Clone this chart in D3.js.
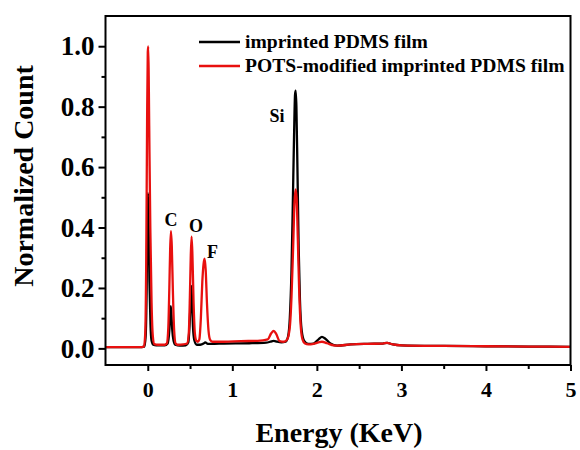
<!DOCTYPE html>
<html><head><meta charset="utf-8">
<script src="https://cdn.jsdelivr.net/npm/d3@7"></script>
<style>body{margin:0;background:#fff}svg{display:block}text{font-family:"Liberation Serif","Times New Roman",serif;font-weight:bold}</style>
</head><body><svg id="c" width="580" height="450"></svg>
<script>
// Energy (keV) and normalized counts
const energyBlack = [-0.5,-0.1,-0.04,-0.025,-0.013,-0.004,0.002,0.01,0.02,0.032,0.045,0.065,0.1,0.2,0.235,0.255,0.265,0.272,0.28,0.29,0.305,0.325,0.38,0.45,0.48,0.495,0.507,0.515,0.523,0.535,0.55,0.58,0.62,0.66,0.68,0.71,0.75,0.9,1.2,1.4,1.45,1.49,1.53,1.58,1.63,1.66,1.68,1.7,1.715,1.73,1.742,1.75,1.758,1.77,1.785,1.8,1.82,1.85,1.9,1.96,2.02,2.06,2.1,2.16,2.24,2.4,2.6,2.78,2.83,2.9,3.0,3.5,4.0,4.5,5.0];
const countBlack  = [0.004,0.004,0.006,0.04,0.2,0.45,0.514,0.42,0.22,0.08,0.025,0.012,0.01,0.01,0.016,0.06,0.11,0.14,0.11,0.06,0.025,0.012,0.009,0.01,0.02,0.08,0.16,0.207,0.16,0.07,0.028,0.012,0.012,0.016,0.02,0.015,0.015,0.016,0.017,0.019,0.022,0.025,0.022,0.02,0.022,0.04,0.1,0.26,0.47,0.7,0.84,0.853,0.8,0.6,0.33,0.16,0.06,0.025,0.015,0.016,0.03,0.038,0.032,0.016,0.009,0.013,0.015,0.016,0.018,0.013,0.01,0.008,0.007,0.006,0.005];

const energyRed = [-0.5,-0.1,-0.045,-0.03,-0.018,-0.008,0.0,0.006,0.013,0.02,0.03,0.045,0.06,0.078,0.12,0.2,0.225,0.243,0.255,0.265,0.274,0.284,0.297,0.312,0.33,0.36,0.42,0.465,0.485,0.498,0.508,0.518,0.528,0.542,0.557,0.575,0.592,0.61,0.628,0.645,0.66,0.672,0.685,0.7,0.718,0.738,0.765,0.9,1.1,1.3,1.42,1.46,1.49,1.52,1.56,1.61,1.65,1.68,1.7,1.72,1.735,1.748,1.76,1.775,1.79,1.81,1.83,1.86,1.9,1.96,2.02,2.06,2.12,2.2,2.24,2.4,2.6,2.78,2.83,2.9,3.0,3.5,4.0,4.5,5.0];
const countRed   = [0.004,0.004,0.006,0.05,0.3,0.75,0.98,0.999,0.85,0.65,0.4,0.15,0.04,0.014,0.012,0.012,0.016,0.07,0.2,0.33,0.388,0.34,0.19,0.06,0.016,0.012,0.013,0.016,0.05,0.17,0.3,0.37,0.31,0.15,0.05,0.025,0.022,0.03,0.1,0.22,0.28,0.297,0.26,0.15,0.06,0.028,0.022,0.022,0.024,0.025,0.03,0.05,0.058,0.047,0.024,0.022,0.03,0.07,0.17,0.34,0.48,0.526,0.5,0.36,0.2,0.07,0.03,0.016,0.013,0.015,0.02,0.022,0.017,0.01,0.009,0.013,0.015,0.016,0.018,0.013,0.01,0.008,0.007,0.006,0.005];

const xMajorTicks = [0,1,2,3,4,5];
const xMinorTicks = [0.5,1.5,2.5,3.5,4.5];
const yMajorTicks = [0.0,0.2,0.4,0.6,0.8,1.0];
const yMinorTicks = [0.1,0.3,0.5,0.7,0.9];
const seriesNames = ["imprinted PDMS film","POTS-modified imprinted PDMS film"];
const seriesColors = ["#000000","#e8100f"];
const peakLabels = ["C","O","F","Si"];

const svg = d3.select("#c");
const L=105.5,R=570.5,T=16,B=365;
const x = d3.scaleLinear().domain([-0.5,5]).range([L,R]);
const y = d3.scaleLinear().domain([-0.055,1.1]).range([B,T]);

const line = d3.line().x(d=>x(d[0])).y(d=>y(d[1])).curve(d3.curveMonotoneX);
svg.append("path").datum(d3.zip(energyBlack,countBlack)).attr("d",line)
  .attr("fill","none").attr("stroke",seriesColors[0]).attr("stroke-width",2.3);
svg.append("path").datum(d3.zip(energyRed,countRed)).attr("d",line)
  .attr("fill","none").attr("stroke",seriesColors[1]).attr("stroke-width",2.3);

// frame
svg.append("rect").attr("x",L).attr("y",T).attr("width",R-L).attr("height",B-T)
  .attr("fill","none").attr("stroke","#000").attr("stroke-width",2);

// bottom axis
const gx = svg.append("g").attr("transform",`translate(0,${B})`);
gx.call(d3.axisBottom(x).tickValues(xMajorTicks).tickSize(6).tickPadding(10).tickFormat(d3.format("d")));
gx.append("g").call(d3.axisBottom(x).tickValues(xMinorTicks).tickSize(4).tickFormat(""));
gx.selectAll(".domain").remove();
gx.selectAll("line").attr("stroke","#000").attr("stroke-width",2);
gx.selectAll("text").attr("font-size",22).attr("fill","#000").attr("font-family",null);

// left axis
const gy = svg.append("g").attr("transform",`translate(${L},0)`);
gy.call(d3.axisLeft(y).tickValues(yMajorTicks).tickSize(7).tickPadding(4).tickFormat(d3.format(".1f")));
gy.append("g").call(d3.axisLeft(y).tickValues(yMinorTicks).tickSize(4).tickFormat(""));
gy.selectAll(".domain").remove();
gy.selectAll("line").attr("stroke","#000").attr("stroke-width",2);
gy.selectAll("text").attr("font-size",27).attr("fill","#000").attr("font-family",null);

// axis titles
svg.append("text").attr("x",339).attr("y",442).attr("text-anchor","middle").attr("font-size",28).text("Energy (KeV)");
svg.append("text").attr("transform","translate(33,176) rotate(-90)").attr("text-anchor","middle").attr("font-size",28).text("Normalized Count");

// legend
seriesNames.forEach((n,i)=>{
  const yy = 42 + i*24;
  svg.append("line").attr("x1",199).attr("x2",240).attr("y1",yy).attr("y2",yy).attr("stroke",seriesColors[i]).attr("stroke-width",2.5);
  svg.append("text").attr("x",245).attr("y",yy+5.5).attr("font-size",19.6).text(n);
});

// peak labels
const labelX = [171,196,212.5,277];
const labelY = [226,232,258,122];
peakLabels.forEach((t,i)=>{
  svg.append("text").attr("x",labelX[i]).attr("y",labelY[i]).attr("text-anchor","middle").attr("font-size",18).text(t);
});
</script></body></html>
